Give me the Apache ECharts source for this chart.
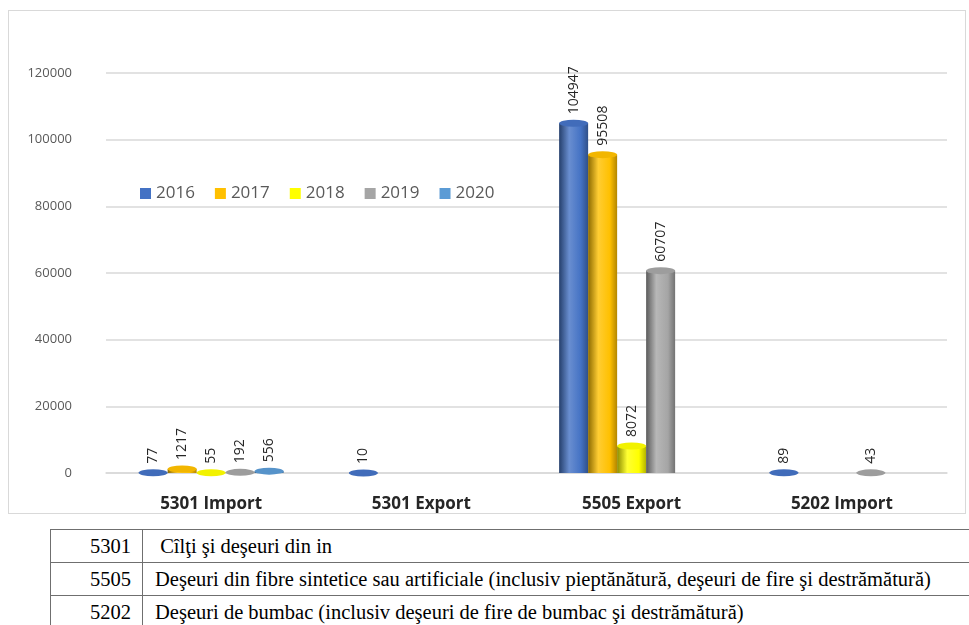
<!DOCTYPE html>
<html>
<head>
<meta charset="UTF-8">
<title>Deseuri textile 5301 / 5505 / 5202</title>
<script src="https://cdn.jsdelivr.net/npm/echarts@6/dist/echarts.min.js"></script>
<style>
  body { margin: 0; background: #fff; overflow: hidden; }
  #main { position: absolute; left: 8px; top: 10px; width: 956px; height: 502px; border: 1px solid #d9d9d9; }
  #codes { position: absolute; left: 50px; top: 529px; width: 960px; border-collapse: collapse;
           font-family: "Liberation Serif", serif; font-size: 20.5px; color: #000; }
  #codes td { border: 1px solid #6f6f6f; height: 32px; padding: 0; line-height: 32px; white-space: nowrap; }
  #codes td.c { width: 80px; text-align: right; padding-right: 11px; }
  #codes td.d { padding-left: 12px; }
</style>
</head>
<body>
<div id="main"></div>
<table id="codes">
  <tr><td class="c">5301</td><td class="d">&nbsp;Cîlţi şi deşeuri din in</td></tr>
  <tr><td class="c">5505</td><td class="d">Deşeuri din fibre sintetice sau artificiale (inclusiv pieptănătură, deşeuri de fire şi destrămătură)</td></tr>
  <tr><td class="c">5202</td><td class="d">Deşeuri de bumbac (inclusiv deşeuri de fire de bumbac şi destrămătură)</td></tr>
</table>
<script type="text/javascript">
// date
var categories = ['5301 Import', '5301 Export', '5505 Export', '5202 Import'];
var years = ['2016', '2017', '2018', '2019', '2020'];
var v2016 = [77, 10, 104947, 89];
var v2017 = [1217, null, 95508, null];
var v2018 = [55, null, 8072, null];
var v2019 = [192, null, 60707, 43];
var v2020 = [556, null, null, null];
var values = [v2016, v2017, v2018, v2019, v2020];
var colors = ['#4472C4', '#FFC000', '#FFFF00', '#A5A5A5', '#5B9BD5'];

// lighten / darken a hex colour
function shade(hex, f) {
  var n = parseInt(hex.slice(1), 16);
  var c = [(n >> 16) & 255, (n >> 8) & 255, n & 255].map(function (x) {
    x = f < 0 ? x * (1 + f) : x + (255 - x) * f;
    return Math.round(x);
  });
  return 'rgb(' + c.join(',') + ')';
}

function cylinder(hex) {
  return {
    type: 'linear', x: 0, y: 0, x2: 1, y2: 0,
    colorStops: [
      { offset: 0, color: shade(hex, -0.45) },
      { offset: 0.35, color: shade(hex, 0.2) },
      { offset: 0.75, color: hex },
      { offset: 1, color: shade(hex, -0.3) }
    ]
  };
}

var myChart = echarts.init(document.getElementById('main'));

var series = [];
years.forEach(function (y, i) {
  series.push({
    name: y, type: 'bar', data: values[i],
    barWidth: 29, barGap: '0%', z: 2,
    itemStyle: { color: cylinder(colors[i]) },
    label: {
      show: true, position: 'top', rotate: 90, align: 'left', verticalAlign: 'middle',
      distance: 9, color: '#262626', fontSize: 14, fontFamily: 'Open Sans'
    }
  });
});
// top ellipses (laid out on their own, same widths as the bars)
years.forEach(function (y, i) {
  series.push({
    name: y, type: 'pictorialBar', data: values[i], symbol: 'circle',
    symbolSize: [29, 7], symbolPosition: 'end', symbolOffset: [0, '-50%'],
    barWidth: 29, barGap: '0%', z: 3,
    itemStyle: { color: shade(colors[i], -0.05) }
  });
});

var option = {
  animation: false,
  textStyle: { fontFamily: 'Open Sans' },
  legend: {
    left: 126, top: 169, icon: 'rect', itemWidth: 11, itemHeight: 11, itemGap: 20,
    textStyle: { fontSize: 17, color: '#595959' },
    data: years.map(function (y, i) { return { name: y, itemStyle: { color: colors[i] } }; })
  },
  grid: { left: 97, right: 18, top: 62, bottom: 39 },
  xAxis: {
    type: 'category', data: categories,
    axisLine: { lineStyle: { color: '#d9d9d9', width: 1.5 } },
    axisTick: { show: false },
    axisLabel: { margin: 23, fontSize: 17, fontWeight: 'bold', color: '#262626' }
  },
  yAxis: {
    type: 'value', min: 0, max: 120000, interval: 20000,
    axisLine: { show: false }, axisTick: { show: false },
    axisLabel: { margin: 34, fontSize: 13, color: '#595959', formatter: function (v) { return String(v); } },
    splitLine: { lineStyle: { color: '#d9d9d9', width: 1.5 } }
  },
  series: series
};
myChart.setOption(option, true);
</script>
</body>
</html>
